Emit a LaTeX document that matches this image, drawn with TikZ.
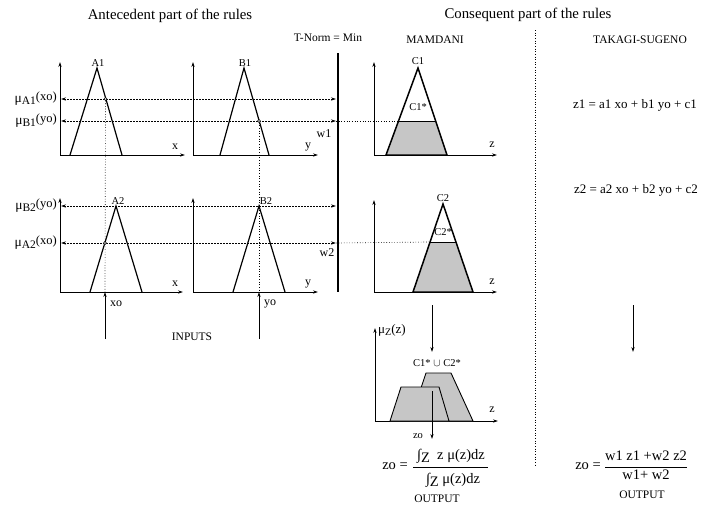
\documentclass[tikz,border=0pt]{standalone}
\usepackage{fontspec}
\setmainfont{Liberation Serif}
\usetikzlibrary{arrows.meta}
\newcommand{\mulab}[2]{\fontsize{13.5}{13.5}\selectfont μ\raisebox{-2pt}{\fontsize{11.5}{11.5}\selectfont #1}\raisebox{2pt}{\fontsize{12.5}{12.5}\selectfont(#2)}}
\begin{document}
\begin{tikzpicture}[x=1pt,y=-1pt,
  tip/.tip={Stealth[length=5pt,width=3.2pt]},
  axis/.style={line width=0.75pt,-tip},
  mf/.style={line width=1.2pt,line join=miter},
  cmf/.style={line width=1.5pt,line join=miter},
  guide/.style={line width=0.65pt,dash pattern=on 2pt off 1pt,tip-tip},
  vdot/.style={line width=0.65pt,dotted},
  shade/.style={fill=gray!45},
  pt/.style={circle,draw,fill=white,inner sep=0pt,minimum size=3pt,line width=0.5pt},
  hd/.style={inner sep=0pt,font=\fontsize{14.8}{17}\selectfont},
  md/.style={inner sep=0pt,font=\fontsize{11.5}{13}\selectfont},
  sm/.style={inner sep=0pt,font=\fontsize{10.5}{12}\selectfont},
  ax/.style={inner sep=0pt,font=\fontsize{12}{14}\selectfont},
  eq/.style={inner sep=0pt,font=\fontsize{13}{15}\selectfont},
  fm/.style={inner sep=0pt,font=\fontsize{14.5}{16}\selectfont}]
\useasboundingbox (0,0) rectangle (701,509);

% headings
\node[hd] (ant) at (170,16) {Antecedent part of the rules};
\node[hd] (cons) at (528,15) {Consequent part of the rules};
\node[md] (tn) at (328,38) {T-Norm = Min};
\node[md] (mam) at (435,40) {MAMDANI};
\node[md] (ts) at (640,40) {TAKAGI-SUGENO};

% coordinates of axes
\coordinate (o1) at (60,155);  \coordinate (o1y) at (60,62);  \coordinate (o1x) at (185,155);
\coordinate (o2) at (193,155); \coordinate (o2y) at (193,62); \coordinate (o2x) at (318,155);
\coordinate (o3) at (60,292);  \coordinate (o3y) at (60,198); \coordinate (o3x) at (183,292);
\coordinate (o4) at (193,292); \coordinate (o4y) at (193,198); \coordinate (o4x) at (318,292);
\coordinate (o5) at (374,155); \coordinate (o5y) at (374,62); \coordinate (o5x) at (497,155);
\coordinate (o6) at (374,292); \coordinate (o6y) at (374,200); \coordinate (o6x) at (497,292);
\coordinate (o7) at (375,421); \coordinate (o7y) at (375,328); \coordinate (o7x) at (498,421);

\foreach \o in {1,...,7}{\draw[axis] (o\o) -- (o\o y); \draw[axis] (o\o) -- (o\o x);}

\node[ax] (lx1) at (175,147) {x};
\node[ax] (ly1) at (308,147) {y};
\node[ax] (lx2) at (175,284) {x};
\node[ax] (ly2) at (308,284) {y};
\node[ax] (lz1) at (492,145) {z};
\node[ax] (lz2) at (492,282) {z};
\node[ax] (lz3) at (492,410) {z};

% antecedent membership functions
\draw[mf] (70,155) -- (97,68) -- (122,155);
\draw[mf] (220,155) -- (244,68) -- (269,155);
\draw[mf] (90,292) -- (116,206) -- (142,292);
\draw[mf] (233,292) -- (259,206) -- (285,292);
\node[sm] (A1) at (98,63) {A1};
\node[sm] (B1) at (245,63) {B1};
\node[sm] (A2) at (118,201) {A2};
\node[sm] (B2) at (266,201) {B2};

% T-norm bar
\coordinate (bt) at (338,53); \coordinate (bb) at (338,292);
\draw[line width=2.4pt] (bt) -- (bb);

% membership degree lines
\coordinate (g1l) at (61,99);  \coordinate (g1r) at (336,99);
\coordinate (g2l) at (61,121); \coordinate (g2r) at (336,121);
\coordinate (g3l) at (61,206); \coordinate (g3r) at (336,206);
\coordinate (g4l) at (61,243); \coordinate (g4r) at (336,243);
\draw[guide] (g1l) -- (g1r);
\draw[guide] (g2l) -- (g2r);
\draw[guide] (g3l) -- (g3r);
\draw[guide] (g4l) -- (g4r);
\node[inner sep=0pt,anchor=east] (mA1) at (57,99) {\mulab{A1}{xo}};
\node[inner sep=0pt,anchor=east] (mB1) at (57,121) {\mulab{B1}{yo}};
\node[inner sep=0pt,anchor=east] (mB2) at (57,206) {\mulab{B2}{yo}};
\node[inner sep=0pt,anchor=east] (mA2) at (57,243) {\mulab{A2}{xo}};
\node[ax] (w1) at (324,134) {w1};
\node[ax] (w2) at (327,253) {w2};

% consequent C1
\coordinate (c1a) at (386,155); \coordinate (c1b) at (398.5,121);
\coordinate (c1c) at (435.7,121); \coordinate (c1d) at (447,155);
\fill[gray!45] (c1a) -- (c1b) -- (c1c) -- (c1d) -- cycle;
\draw[line width=0.9pt] (c1b) -- (c1c);
\draw[cmf] (c1a) -- (418,68) -- (c1d) -- cycle;
\node[sm] (C1) at (418,61) {C1};
\node[sm] (C1s) at (418,107) {C1*};
\draw[vdot] (g2r) -- (c1b);

% consequent C2
\coordinate (c2a) at (413,292); \coordinate (c2b) at (430,242);
\coordinate (c2c) at (456,242); \coordinate (c2d) at (473,292);
\fill[gray!45] (c2a) -- (c2b) -- (c2c) -- (c2d) -- cycle;
\draw[line width=0.9pt] (c2b) -- (c2c);
\draw[cmf] (c2a) -- (443,204) -- (c2d) -- cycle;
\node[sm] (C2) at (443,198) {C2};
\node[sm] (C2s) at (443,232) {C2*};
\draw[vdot] (g4r) -- (c2b);

% projection lines and inputs
\node[pt] (p1) at (105.5,99) {};
\node[pt] (p2) at (259,121) {};
\node[pt] (p3) at (105,243) {};
\coordinate (xi) at (105,292); \coordinate (xs) at (105,339);
\coordinate (yi) at (259,292); \coordinate (ys) at (259,339);
\draw[vdot] (p1) -- (xi);
\draw[vdot] (p2) -- (yi);
\draw[axis] (xs) -- (xi);
\draw[axis] (ys) -- (yi);
\node[ax] (xo) at (116,304) {xo};
\node[ax] (yo) at (270,304) {yo};
\node[md] (inp) at (192,337) {INPUTS};

% separator
\coordinate (s1) at (535,30); \coordinate (s2) at (535,465);
\draw[vdot] (s1) -- (s2);

% Takagi-Sugeno
\node[eq] (z1) at (635,105) {z1 = a1 xo + b1 yo + c1};
\node[eq] (z2) at (636,190) {z2 = a2 xo + b2 yo + c2};
\coordinate (d1a) at (432,305); \coordinate (d1b) at (432,352);
\coordinate (d2a) at (633,305); \coordinate (d2b) at (633,352);
\draw[axis] (d1a) -- (d1b);
\draw[axis] (d2a) -- (d2b);

% aggregated output
\node[inner sep=0pt,anchor=west] (muz) at (378,330) {\fontsize{13}{13}\selectfont μ\raisebox{-2pt}{\fontsize{10}{10}\selectfont Z}(z)};
\node[sm] (uni) at (437,363) {C1* $\cup$ C2*};
\draw[line width=0.9pt,shade] (410,421) -- (426,373) -- (451,373) -- (473,421) -- cycle;
\draw[line width=0.9pt,shade] (390,421) -- (401,387) -- (439,387) -- (449,421) -- cycle;
\coordinate (za) at (432,391); \coordinate (zb) at (432,439);
\draw[axis] (za) -- (zb);
\node[sm] (zo) at (418,436) {zo};

% formulas
\node[fm] (f1zo) at (395,466) {zo =};
\node[fm] (f1n) at (451,456) {∫\raisebox{-3pt}{Z}\ \ z μ(z)dz};
\node[fm] (f1d) at (453,480) {∫\raisebox{-3pt}{Z} μ(z)dz};
\coordinate (f1a) at (413,467); \coordinate (f1b) at (488,467);
\draw[line width=0.6pt] (f1a) -- (f1b);
\node[md] (out1) at (437,499) {OUTPUT};

\node[fm] (f2zo) at (588,466) {zo =};
\node[fm] (f2n) at (646,456) {w1 z1 +w2 z2};
\node[fm] (f2d) at (646,475) {w1+ w2};
\coordinate (f2a) at (605,467); \coordinate (f2b) at (687,467);
\draw[line width=0.6pt] (f2a) -- (f2b);
\node[md] (out2) at (642,495) {OUTPUT};
\end{tikzpicture}
\end{document}
